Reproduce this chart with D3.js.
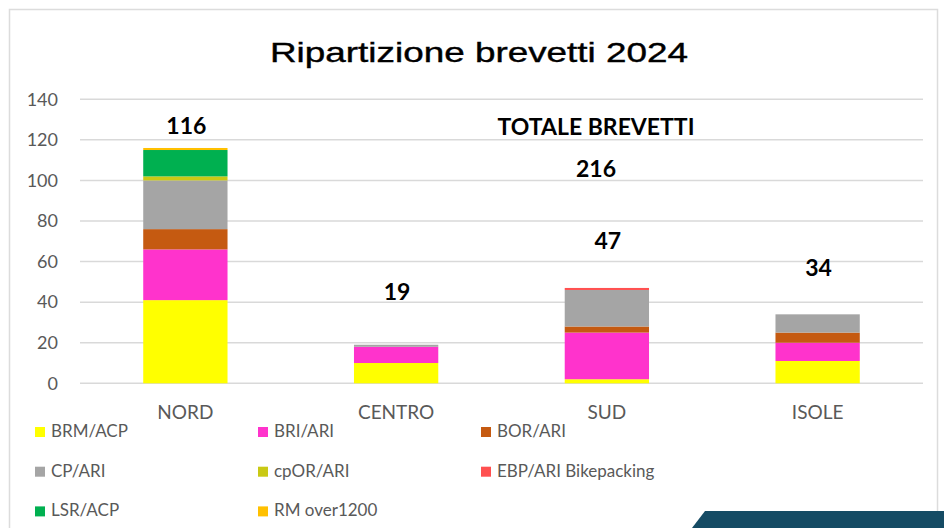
<!DOCTYPE html>
<html>
<head>
<meta charset="utf-8">
<script src="https://cdn.jsdelivr.net/npm/d3@7"></script>
<style>
  body { margin: 0; background: #fff; }
  svg { display: block; }
</style>
</head>
<body>
<div id="chart"></div>
<script>
// regions and series (number of brevetti per type)
var regions = ["NORD", "CENTRO", "SUD", "ISOLE"];
var seriesNames = ["BRM/ACP", "BRI/ARI", "BOR/ARI", "CP/ARI", "cpOR/ARI",
                   "EBP/ARI Bikepacking", "LSR/ACP", "RM over1200"];
var brmAcp  = [41, 10, 2, 11];
var briAri  = [25, 8, 23, 9];
var borAri  = [10, 0, 3, 5];
var cpAri   = [24, 1, 18, 9];
var cporAri = [2, 0, 0, 0];
var ebpAri  = [0, 0, 1, 0];
var lsrAcp  = [13, 0, 0, 0];
var rmOver  = [1, 0, 0, 0];
var yTicks = [0, 20, 40, 60, 80, 100, 120, 140];
var totalLabel = "TOTALE BREVETTI";

var colors = ["#ffff00", "#ff33cc", "#c55a11", "#a5a5a5", "#c9c914",
              "#ff5050", "#00b050", "#ffc000"];
// how far above each bar the total sits (in value units)
var labelLift = [6.7, 22, 19, 19];

var allSeries = [brmAcp, briAri, borAri, cpAri, cporAri, ebpAri, lsrAcp, rmOver];
var rows = regions.map(function(r, i) {
  var o = {region: r};
  seriesNames.forEach(function(s, k) { o[s] = allSeries[k][i]; });
  return o;
});
var totals = regions.map(function(r, i) {
  return d3.sum(allSeries, function(s) { return s[i]; });
});
var grandTotal = d3.sum(totals);

var W = 944, H = 528;
var margin = {top: 99.3, left: 80, right: 21, bottom: 144.7};

var svg = d3.select("#chart").append("svg")
    .attr("width", W)
    .attr("height", H);

// frame
svg.append("rect")
    .attr("x", 9.5).attr("y", 9.5)
    .attr("width", 928).attr("height", 540)
    .attr("fill", "#fff")
    .attr("stroke", "#dcdcdc")
    .attr("stroke-width", 1.5);

var x = d3.scaleBand()
    .domain(regions)
    .range([margin.left, W - margin.right])
    .paddingInner(0.6)
    .paddingOuter(0.3);

var y = d3.scaleLinear()
    .domain([0, 140])
    .range([H - margin.bottom, margin.top]);

// gridlines
svg.append("g").selectAll("line").data(yTicks).enter()
  .append("line")
    .attr("x1", margin.left)
    .attr("x2", W - margin.right)
    .attr("y1", function(d) { return y(d); })
    .attr("y2", function(d) { return y(d); })
    .attr("stroke", "#d9d9d9")
    .attr("stroke-width", 1.5);

// y axis labels
var yAxis = svg.append("g")
    .attr("transform", "translate(" + (margin.left - 22) + ",0)")
    .call(d3.axisLeft(y).tickValues(yTicks).tickSize(0).tickPadding(0));
yAxis.select(".domain").remove();
yAxis.selectAll("text")
    .style("font-family", "Lato, sans-serif")
    .style("font-size", "18px")
    .attr("fill", "#595959");

// x axis labels
var xAxis = svg.append("g")
    .attr("transform", "translate(0," + (H - margin.bottom) + ")")
    .call(d3.axisBottom(x).tickSize(0).tickPadding(22));
xAxis.select(".domain").remove();
xAxis.selectAll("text")
    .style("font-family", "Lato, sans-serif")
    .style("font-size", "19px")
    .attr("fill", "#595959");

// stacked bars
var stack = d3.stack().keys(seriesNames);
var layers = stack(rows);

svg.append("g").selectAll("g").data(layers).enter()
  .append("g")
    .attr("fill", function(d, i) { return colors[i]; })
  .selectAll("rect").data(function(d) { return d; }).enter()
  .append("rect")
    .attr("x", function(d) { return x(d.data.region); })
    .attr("width", x.bandwidth())
    .attr("y", function(d) { return y(d[1]); })
    .attr("height", function(d) { return y(d[0]) - y(d[1]); });

// totals above bars
svg.append("g").selectAll("text").data(totals).enter()
  .append("text")
    .attr("x", function(d, i) { return x(regions[i]) + x.bandwidth() / 2 + 1; })
    .attr("y", function(d, i) { return y(d + labelLift[i]); })
    .attr("text-anchor", "middle")
    .style("font-family", "Lato, sans-serif")
    .style("font-weight", "bold")
    .style("font-size", "23px")
    .attr("fill", "#000")
    .text(function(d) { return d; });

// grand total
svg.append("text")
    .attr("x", 596).attr("y", 135)
    .attr("text-anchor", "middle")
    .style("font-family", "Lato, sans-serif")
    .style("font-weight", "bold")
    .style("font-size", "23px")
    .text(totalLabel);
svg.append("text")
    .attr("x", 596).attr("y", 176.7)
    .attr("text-anchor", "middle")
    .style("font-family", "Lato, sans-serif")
    .style("font-weight", "bold")
    .style("font-size", "23px")
    .text(grandTotal);

// title (stretched to the width it has in the picture)
svg.append("text")
    .attr("x", 479).attr("y", 62)
    .attr("text-anchor", "middle")
    .attr("textLength", 418)
    .attr("lengthAdjust", "spacingAndGlyphs")
    .style("font-family", "'Liberation Sans', Arial, sans-serif")
    .style("font-size", "28px")
    .attr("fill", "#000")
    .attr("stroke", "#000")
    .attr("stroke-width", 0.4)
    .text("Ripartizione brevetti 2024");

// legend, 3 columns
var legend = svg.append("g").selectAll("g").data(seriesNames).enter()
  .append("g")
    .attr("transform", function(d, i) {
      return "translate(" + (35 + (i % 3) * 223) + "," + (437 + Math.floor(i / 3) * 39.7) + ")";
    });
legend.append("rect")
    .attr("x", 0).attr("y", -10)
    .attr("width", 10).attr("height", 10)
    .attr("fill", function(d, i) { return colors[i]; });
legend.append("text")
    .attr("x", 16).attr("y", 0)
    .style("font-family", "Lato, sans-serif")
    .style("font-size", "17px")
    .attr("fill", "#595959")
    .text(function(d) { return d; });

// dark corner band
svg.append("path")
    .attr("d", "M705,511 L944,511 L944,528 L692,528 Z")
    .attr("fill", "#154b64");
</script>
</body>
</html>
